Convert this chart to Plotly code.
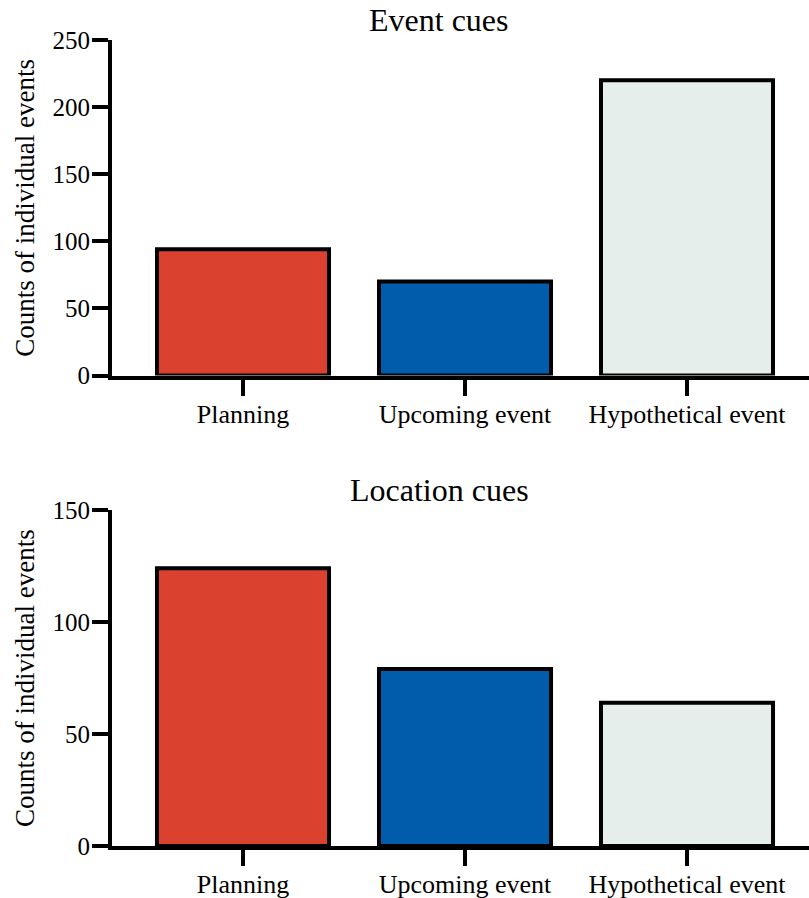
import plotly.graph_objects as go

# Categories and counts for the two panels
categories = ["Planning", "Upcoming event", "Hypothetical event"]
event_counts = [94, 70, 220]
location_counts = [124, 79, 64]
bar_colors = ["#DA412E", "#015CAB", "#E5EEEA"]
event_ticks = [0, 50, 100, 150, 200, 250]
location_ticks = [0, 50, 100, 150]
panel_titles = ["Event cues", "Location cues"]
y_label = "Counts of individual events"

W, H = 809, 898
ML, MR, MT, MB = 112, 0, 40, 52
FONT = "Liberation Serif, Times New Roman, serif"

plot_h = H - MT - MB
top_domain = [(H - MB - 375.5) / plot_h, 1.0]
bot_domain = [0.0, (H - MB - 510) / plot_h]

# category 0 sits at x=243 px, 222 px per category step
ppu = 222.0
x_left = -(243 - ML) / ppu
x_right = (W - MR - 243) / ppu

fig = go.Figure()
fig.add_trace(go.Bar(
    x=categories, y=event_counts, xaxis="x", yaxis="y",
    marker=dict(color=bar_colors, line=dict(color="black", width=4)),
    width=0.775, showlegend=False,
))
fig.add_trace(go.Bar(
    x=categories, y=location_counts, xaxis="x2", yaxis="y2",
    marker=dict(color=bar_colors, line=dict(color="black", width=4)),
    width=0.775, showlegend=False,
))

axis_common = dict(
    showline=True, linecolor="black", linewidth=4,
    ticks="outside", ticklen=16, tickwidth=4, tickcolor="black",
    showgrid=False, zeroline=False, automargin=False,
)

xcommon = dict(axis_common, range=[x_left, x_right], fixedrange=True,
               ticklabelstandoff=-4,
               tickfont=dict(family=FONT, size=26, color="black"))
ycommon = dict(axis_common, ticklabelstandoff=-3,
               tickfont=dict(family=FONT, size=25, color="black"))
fig.update_layout(
    xaxis=dict(xcommon, anchor="y", domain=[0, 1]),
    xaxis2=dict(xcommon, anchor="y2", domain=[0, 1]),
    yaxis=dict(ycommon, anchor="x", domain=top_domain, range=[0, 250],
               tickvals=event_ticks),
    yaxis2=dict(ycommon, anchor="x2", domain=bot_domain, range=[0, 150],
                tickvals=location_ticks),
)

title_x = (439 - ML) / (W - ML - MR)
annotations = []
for title, ypx in zip(panel_titles, [20, 490]):
    annotations.append(dict(
        text=title, xref="paper", yref="paper",
        x=title_x, y=(H - MB - ypx) / plot_h,
        xanchor="center", yanchor="middle", showarrow=False,
        font=dict(family=FONT, size=32, color="black"),
    ))
for dom in (top_domain, bot_domain):
    annotations.append(dict(
        text=y_label, xref="paper", yref="paper",
        x=0, xshift=25 - ML, y=(dom[0] + dom[1]) / 2,
        xanchor="center", yanchor="middle", textangle=-90, showarrow=False,
        font=dict(family=FONT, size=27, color="black"),
    ))

fig.update_layout(
    width=W, height=H,
    margin=dict(l=ML, r=MR, t=MT, b=MB, pad=0),
    paper_bgcolor="white", plot_bgcolor="white",
    template="none",
    annotations=annotations,
)

fig.write_html("out.html", config={"displayModeBar": False})
